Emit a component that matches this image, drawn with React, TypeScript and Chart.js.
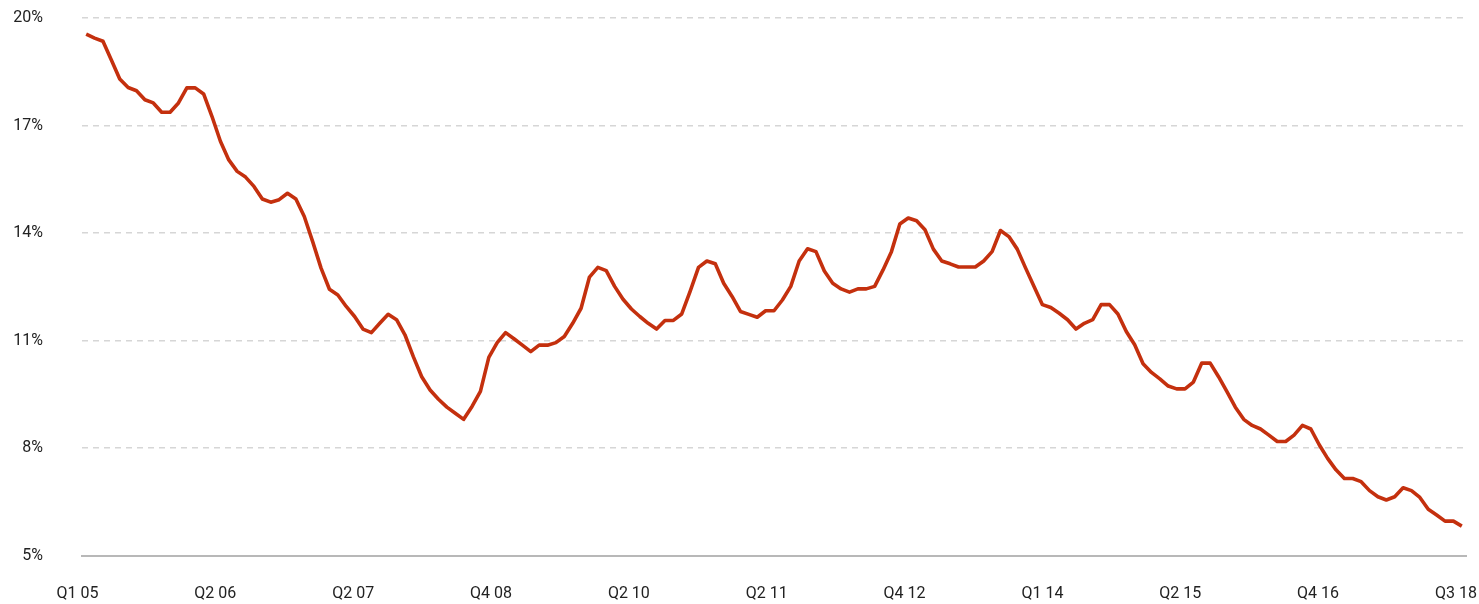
import React, { useEffect, useRef } from "react";
import { Chart, registerables } from "chart.js";

Chart.register(...registerables);

// Monthly series, Q1 05 .. Q3 18 (percent)
const VALUES: number[] = [
  19.55, 19.44, 19.35, 18.83, 18.3, 18.06, 17.97, 17.72, 17.63, 17.37,
  17.37, 17.63, 18.05, 18.05, 17.88, 17.25, 16.56, 16.04, 15.72, 15.56,
  15.3, 14.95, 14.86, 14.93, 15.11, 14.95, 14.46, 13.76, 13.02, 12.43,
  12.27, 11.95, 11.67, 11.32, 11.22, 11.48, 11.73, 11.58, 11.16, 10.55,
  9.99, 9.62, 9.36, 9.14, 8.97, 8.8, 9.16, 9.58, 10.53, 10.94,
  11.22, 11.05, 10.87, 10.69, 10.87, 10.87, 10.94, 11.11, 11.48, 11.9,
  12.77, 13.04, 12.95, 12.51, 12.15, 11.88, 11.67, 11.48, 11.32, 11.56,
  11.56, 11.74, 12.37, 13.04, 13.22, 13.14, 12.6, 12.23, 11.81, 11.73,
  11.65, 11.83, 11.83, 12.13, 12.51, 13.22, 13.56, 13.48, 12.94, 12.6,
  12.44, 12.35, 12.44, 12.44, 12.51, 12.97, 13.48, 14.25, 14.42, 14.34,
  14.09, 13.55, 13.22, 13.14, 13.05, 13.05, 13.05, 13.22, 13.48, 14.07,
  13.9, 13.55, 13.02, 12.51, 12.0, 11.92, 11.76, 11.58, 11.32, 11.48,
  11.58, 12.0, 12.0, 11.74, 11.25, 10.88, 10.35, 10.11, 9.93, 9.73,
  9.65, 9.65, 9.84, 10.37, 10.37, 9.99, 9.57, 9.14, 8.8, 8.63,
  8.53, 8.36, 8.18, 8.18, 8.36, 8.63, 8.53, 8.09, 7.71, 7.39,
  7.15, 7.15, 7.06, 6.81, 6.64, 6.55, 6.64, 6.89, 6.81, 6.62,
  6.29, 6.13, 5.96, 5.96, 5.82,
];

const X_TICK_LABELS: string[] = [
  "Q1 05", "Q2 06", "Q2 07", "Q4 08", "Q2 10", "Q2 11",
  "Q4 12", "Q1 14", "Q2 15", "Q4 16", "Q3 18",
];

const Y_TICKS: number[] = [5, 8, 11, 14, 17, 20];

const LINE_COLOR = "#C4300E";
const FONT = "Roboto, 'Liberation Sans', Arial, sans-serif";

export default function App() {
  const ref = useRef<HTMLCanvasElement | null>(null);

  useEffect(() => {
    const canvas = ref.current;
    if (!canvas) return;
    const n = VALUES.length;
    const first = -1.04;
    const last = n - 1 - 0.7;
    const step = (last - first) / (X_TICK_LABELS.length - 1);
    const data = VALUES.map((v, i) => ({ x: i, y: v }));

    const chart = new Chart(canvas, {
      type: "line",
      data: {
        datasets: [
          {
            data,
            borderColor: LINE_COLOR,
            borderWidth: 3.6,
            pointRadius: 0,
            tension: 0,
            fill: false,
            borderJoinStyle: "round",
          },
        ],
      },
      options: {
        animation: false,
        responsive: true,
        maintainAspectRatio: false,
        layout: { padding: { top: 18, right: 13, left: 0, bottom: 0 } },
        plugins: { legend: { display: false }, tooltip: { enabled: false } },
        scales: {
          x: {
            type: "linear",
            min: -0.5,
            max: n - 0.5,
            grid: { display: false, drawTicks: true, tickLength: 29, tickColor: "rgba(0,0,0,0)" },
            border: { display: true, color: "#b8b8b8", width: 2 },
            afterBuildTicks: (scale: any) => {
              scale.ticks = X_TICK_LABELS.map((_, k) => ({ value: first + k * step }));
            },
            afterFit: (scale: any) => {
              scale.height = 48.5;
            },
            ticks: {
              autoSkip: false,
              maxRotation: 0,
              padding: 0,
              color: "#222",
              font: { family: FONT, size: 16 },
              callback: (_v: any, idx: number) => X_TICK_LABELS[idx] ?? "",
            },
          },
          y: {
            min: 5,
            max: 20,
            afterBuildTicks: (scale: any) => {
              scale.ticks = Y_TICKS.map((v) => ({ value: v }));
            },
            afterFit: (scale: any) => {
              scale.width = 82;
            },
            grid: {
              drawTicks: true,
              tickLength: 39,
              tickColor: "rgba(0,0,0,0)",
              color: (ctx: any) => (ctx.tick && ctx.tick.value === 5 ? "rgba(0,0,0,0)" : "#d6d6d6"),
              lineWidth: 1.5,
            },
            border: { display: false, dash: [6, 5] },
            ticks: {
              padding: 0,
              color: "#222",
              font: { family: FONT, size: 16 },
              callback: (v: any) => `${v}%`,
            },
          },
        },
      },
    });
    return () => chart.destroy();
  }, []);

  return (
    <div style={{ position: "fixed", left: 0, top: 0, width: 1479, height: 604, background: "#fff" }}>
      <canvas ref={ref} />
    </div>
  );
}
